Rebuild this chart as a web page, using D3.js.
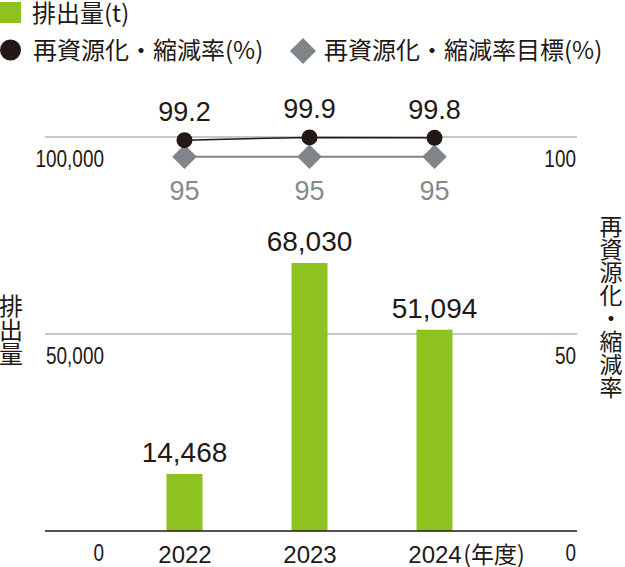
<!DOCTYPE html>
<html>
<head>
<meta charset="utf-8">
<script src="https://cdn.jsdelivr.net/npm/d3@7"></script>
<style>
  body { margin: 0; background: #fff; }
  svg { display: block; }
</style>
</head>
<body>
<svg id="chart"></svg>
<script>
// data
const years = ['2022', '2023', '2024'];
const emissions = [14468, 68030, 51094];      // 排出量(t)
const rates = [99.2, 99.9, 99.8];             // 再資源化・縮減率(%)
const targets = [95, 95, 95];                 // 再資源化・縮減率目標(%)
const leftTicks = [0, 50000, 100000];
const rightTicks = [0, 50, 100];

const width = 625;
const height = 567;
const ink = '#231815';
const green = '#8dc21f';
const grey = '#7f8588';
const cjk = '"Noto Sans CJK JP", "Noto Sans", sans-serif';
const num = '"Liberation Sans", Arial, sans-serif';

const svg = d3.select('#chart')
    .attr('width', width)
    .attr('height', height);

// scales
const x = d3.scalePoint().domain(years).range([184.5, 434.5]);
const y = d3.scaleLinear().domain([0, 100000]).range([531, 137]);
const yRate = d3.scaleLinear().domain([0, 100]).range([531, 137]);
const barW = 36;
const gridLeft = 45, gridRight = 577;

// squeeze axis numbers to look like the condensed face of the original
function condense(sel, k) {
    sel.each(function() {
        const w = this.getComputedTextLength();
        d3.select(this)
            .attr('textLength', w * k)
            .attr('lengthAdjust', 'spacingAndGlyphs');
    });
}

// gridlines
svg.append('g')
    .selectAll('line')
    .data(leftTicks.filter(d => d > 0))
    .join('line')
    .attr('x1', gridLeft).attr('x2', gridRight)
    .attr('y1', d => y(d)).attr('y2', d => y(d))
    .attr('stroke', '#b4b4b4')
    .attr('stroke-width', 1.5);

// bars
svg.append('g')
    .selectAll('rect')
    .data(emissions)
    .join('rect')
    .attr('x', (d, i) => x(years[i]) - barW / 2)
    .attr('width', barW)
    .attr('y', d => y(d))
    .attr('height', d => y(0) - y(d))
    .attr('fill', green);

// bar value labels
svg.append('g')
    .selectAll('text')
    .data(emissions)
    .join('text')
    .attr('x', (d, i) => x(years[i]))
    .attr('y', d => y(d) - 12)
    .attr('text-anchor', 'middle')
    .style('font', `28px ${num}`)
    .attr('fill', ink)
    .text(d => d3.format(',')(d));

// baseline
svg.append('line')
    .attr('x1', gridLeft).attr('x2', gridRight)
    .attr('y1', y(0)).attr('y2', y(0))
    .attr('stroke', ink)
    .attr('stroke-width', 1.5);

// left axis
const leftAxis = svg.append('g')
    .attr('transform', 'translate(104,0)')
    .call(d3.axisLeft(y).tickValues(leftTicks).tickSize(0).tickFormat(d3.format(',')));
leftAxis.select('.domain').remove();
leftAxis.selectAll('text')
    .attr('x', 0).attr('y', 29).attr('dy', 0)
    .attr('text-anchor', 'end')
    .attr('fill', ink)
    .style('font', `24px ${num}`)
    .call(condense, 0.79);

// right axis
const rightAxis = svg.append('g')
    .attr('transform', 'translate(576,0)')
    .call(d3.axisRight(yRate).tickValues(rightTicks).tickSize(0));
rightAxis.select('.domain').remove();
rightAxis.selectAll('text')
    .attr('x', 0).attr('y', 29).attr('dy', 0)
    .attr('text-anchor', 'end')
    .attr('fill', ink)
    .style('font', `24px ${num}`)
    .call(condense, 0.79);

// x axis labels
const xAxis = svg.append('g')
    .attr('transform', 'translate(0,531)')
    .call(d3.axisBottom(x).tickSize(0));
xAxis.select('.domain').remove();
xAxis.selectAll('text')
    .attr('y', 32).attr('dy', 0)
    .attr('fill', ink)
    .style('font', `24px ${num}`);

// unit after last year
const lastTick = xAxis.selectAll('text').filter(d => d === years[years.length - 1]);
const lastW = lastTick.node().getComputedTextLength();
svg.append('text')
    .attr('x', x(years[years.length - 1]) + lastW / 2 + 2)
    .attr('y', 563)
    .attr('fill', ink)
    .style('font', `23px ${cjk}`)
    .text('(年度)');

// target line + diamonds
svg.append('path')
    .datum(targets)
    .attr('d', d3.line().x((d, i) => x(years[i])).y(d => yRate(d)))
    .attr('fill', 'none')
    .attr('stroke', grey)
    .attr('stroke-width', 2);

svg.append('g')
    .selectAll('path')
    .data(targets)
    .join('path')
    .attr('transform', (d, i) => `translate(${x(years[i])},${yRate(d)}) rotate(45)`)
    .attr('d', d3.symbol().type(d3.symbolSquare).size(300))
    .attr('fill', grey);

svg.append('g')
    .selectAll('text')
    .data(targets)
    .join('text')
    .attr('x', (d, i) => x(years[i]))
    .attr('y', d => yRate(d) + 43)
    .attr('text-anchor', 'middle')
    .attr('fill', '#858a8c')
    .style('font', `27px ${num}`)
    .text(d => d);

// rate line + circles
svg.append('path')
    .datum(rates)
    .attr('d', d3.line().x((d, i) => x(years[i])).y(d => yRate(d)))
    .attr('fill', 'none')
    .attr('stroke', ink)
    .attr('stroke-width', 1.5);

svg.append('g')
    .selectAll('circle')
    .data(rates)
    .join('circle')
    .attr('cx', (d, i) => x(years[i]))
    .attr('cy', d => yRate(d))
    .attr('r', 8)
    .attr('fill', ink);

svg.append('g')
    .selectAll('text')
    .data(rates)
    .join('text')
    .attr('x', (d, i) => x(years[i]))
    .attr('y', d => yRate(d) - 19)
    .attr('text-anchor', 'middle')
    .attr('fill', ink)
    .style('font', `27px ${num}`)
    .text(d => d3.format('.1f')(d));

// axis titles, set vertically
svg.append('text')
    .attr('x', 11).attr('y', 294)
    .attr('fill', ink)
    .style('writing-mode', 'vertical-rl')
    .style('font', `24px ${cjk}`)
    .text('排出量');

svg.append('text')
    .attr('x', 611).attr('y', 215)
    .attr('fill', ink)
    .style('writing-mode', 'vertical-rl')
    .style('font', `23px ${cjk}`)
    .text('再資源化・縮減率');

// legend
const legend = svg.append('g');
legend.append('rect')
    .attr('x', 0).attr('y', 2).attr('width', 21).attr('height', 21)
    .attr('fill', green);
legend.append('text')
    .attr('x', 32).attr('y', 22)
    .attr('fill', ink)
    .style('font', `24px ${cjk}`)
    .text('排出量(t)');

legend.append('circle')
    .attr('cx', 10.5).attr('cy', 50).attr('r', 10.5)
    .attr('fill', ink);
legend.append('text')
    .attr('x', 33).attr('y', 59)
    .attr('fill', ink)
    .style('font', `24px ${cjk}`)
    .text('再資源化・縮減率(%)');

legend.append('path')
    .attr('transform', 'translate(303,51) rotate(45)')
    .attr('d', d3.symbol().type(d3.symbolSquare).size(340))
    .attr('fill', grey);
legend.append('text')
    .attr('x', 324).attr('y', 59)
    .attr('fill', ink)
    .style('font', `24px ${cjk}`)
    .text('再資源化・縮減率目標(%)');
</script>
</body>
</html>
